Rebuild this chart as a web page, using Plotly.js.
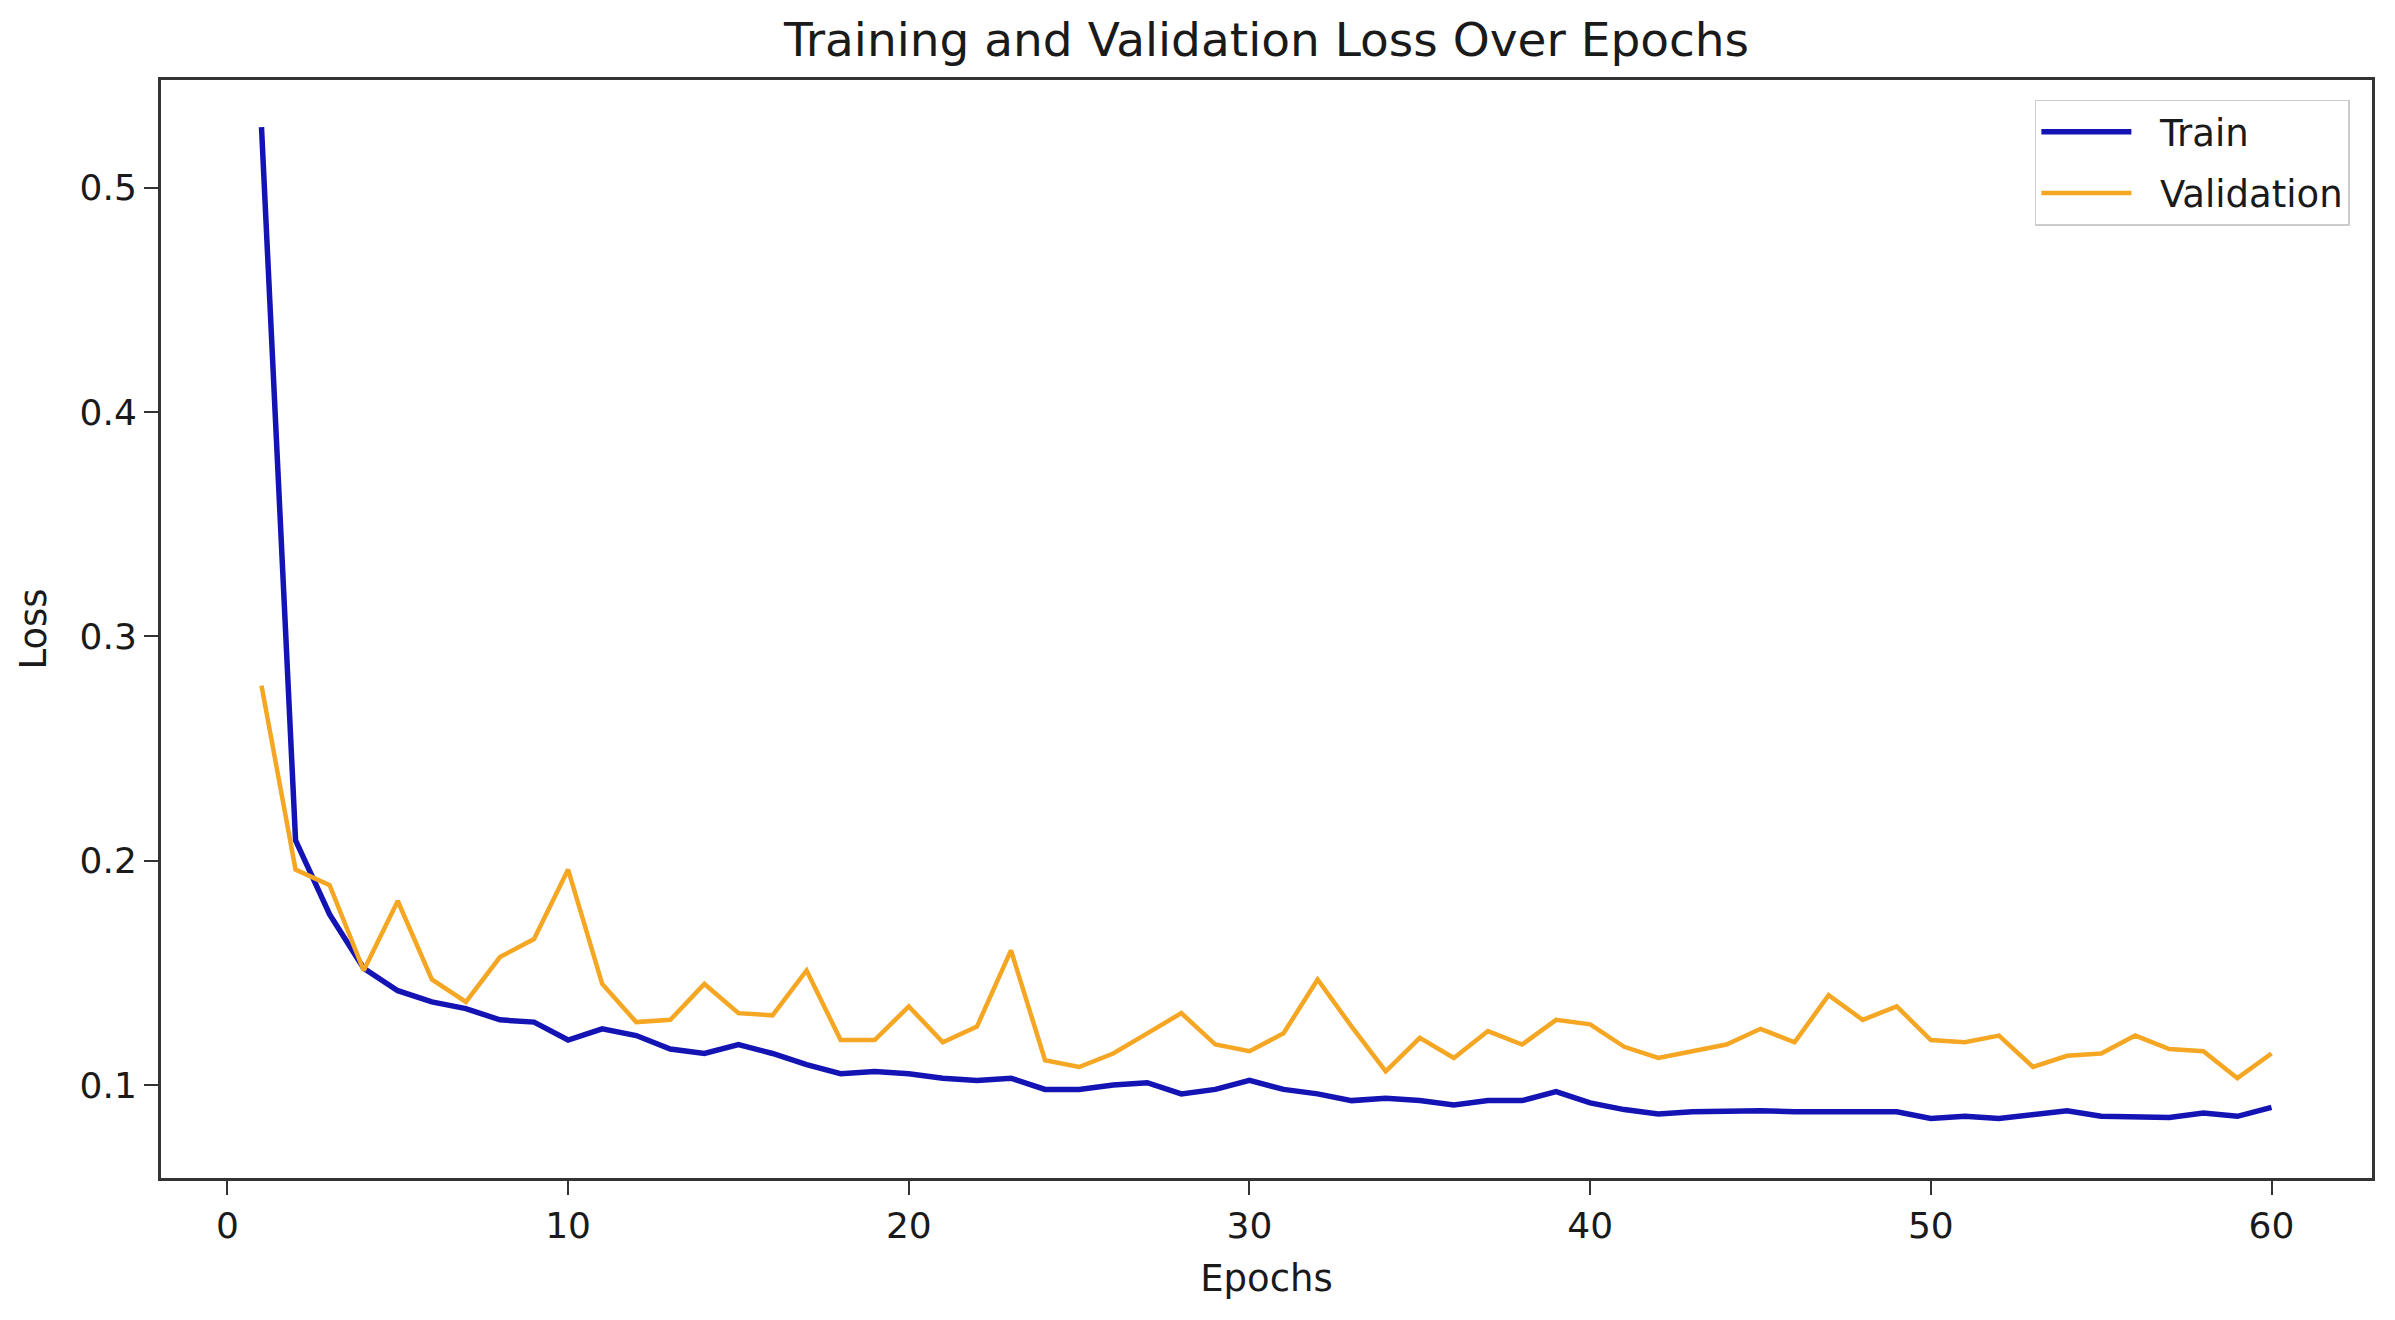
<!DOCTYPE html>
<html>
<head>
<meta charset="utf-8">
<script src="https://cdn.plot.ly/plotly-3.0.1.min.js"></script>
<style>
html,body{margin:0;padding:0;background:#fff;}
#chart{width:2395px;height:1320px;}
</style>
</head>
<body>
<div id="chart"></div>
<script>
const epochs = [1,2,3,4,5,6,7,8,9,10,11,12,13,14,15,16,17,18,19,20,21,22,23,24,25,26,27,28,29,30,31,32,33,34,35,36,37,38,39,40,41,42,43,44,45,46,47,48,49,50,51,52,53,54,55,56,57,58,59,60];

const trainLoss = [0.527,0.209,0.176,0.152,0.142,0.137,0.134,0.129,0.128,0.120,
                   0.125,0.122,0.116,0.114,0.118,0.114,0.109,0.105,0.106,0.105,
                   0.103,0.102,0.103,0.098,0.098,0.100,0.101,0.096,0.098,0.102,
                   0.098,0.096,0.093,0.094,0.093,0.091,0.093,0.093,0.097,0.092,
                   0.089,0.087,0.088,0.0885,0.0885,0.088,0.088,0.088,0.088,0.085,
                   0.086,0.085,0.087,0.0885,0.086,0.086,0.0855,0.0875,0.086,0.090];

const valLoss = [0.278,0.196,0.189,0.151,0.182,0.147,0.137,0.157,0.165,0.196,
                 0.145,0.128,0.129,0.145,0.132,0.131,0.151,0.120,0.120,0.135,
                 0.119,0.126,0.160,0.111,0.108,0.114,0.123,0.132,0.118,0.115,
                 0.123,0.147,0.126,0.106,0.121,0.112,0.124,0.118,0.129,0.127,
                 0.117,0.112,0.115,0.118,0.125,0.119,0.140,0.129,0.135,0.120,
                 0.119,0.122,0.108,0.113,0.114,0.122,0.116,0.115,0.103,0.114];

const seriesNames = ['Train', 'Validation'];
const xTicks = [0,10,20,30,40,50,60];
const yTicks = [0.1,0.2,0.3,0.4,0.5];

const FONT = 'DejaVu Sans, Liberation Sans, sans-serif';
const TXT = '#1a1a1a';
const GAP = '\u00a0\u00a0';

const traces = [
  {x: epochs, y: trainLoss, type: 'scatter', mode: 'lines', name: GAP + seriesNames[0], legendgroup: 'a',
   line: {color: '#1414b4', width: 5.5}},
  {x: epochs, y: valLoss, type: 'scatter', mode: 'lines', name: GAP + seriesNames[1], legendgroup: 'b',
   line: {color: '#f5a623', width: 4.5}}
];

const layout = {
  width: 2395, height: 1320,
  paper_bgcolor: '#ffffff', plot_bgcolor: '#ffffff',
  margin: {l: 161, r: 23, t: 80, b: 142},
  font: {family: FONT, color: TXT, size: 36},
  title: {text: 'Training and Validation Loss Over Epochs',
          font: {family: FONT, size: 47, color: TXT},
          xref: 'paper', x: 0.5, xanchor: 'center', y: 0.97, yanchor: 'middle'},
  xaxis: {range: [-1.95, 62.95], tickvals: xTicks, ticks: 'outside', ticklen: 14, tickwidth: 2,
          tickcolor: '#333', showgrid: false, zeroline: false,
          showline: true, linecolor: '#333', linewidth: 3, mirror: true,
          tickfont: {family: FONT, size: 36, color: TXT},
          title: {text: 'Epochs', font: {family: FONT, size: 37, color: TXT}, standoff: 20}},
  yaxis: {range: [0.0585, 0.548], tickvals: yTicks, tickformat: '.1f', ticks: 'outside', ticklen: 14, tickwidth: 2,
          tickcolor: '#333', showgrid: false, zeroline: false,
          showline: true, linecolor: '#333', linewidth: 3, mirror: true,
          tickfont: {family: FONT, size: 36, color: TXT},
          title: {text: 'Loss', font: {family: FONT, size: 37, color: TXT}, standoff: 22}},
  legend: {x: 0.99, xanchor: 'right', y: 0.982, yanchor: 'top',
           bgcolor: 'rgba(255,255,255,0.9)', bordercolor: '#cccccc', borderwidth: 1.5,
           itemwidth: 90, tracegroupgap: 10,
           font: {family: FONT, size: 37, color: TXT}},
  showlegend: true
};

Plotly.newPlot('chart', traces, layout, {displayModeBar: false, staticPlot: true});
</script>
</body>
</html>
